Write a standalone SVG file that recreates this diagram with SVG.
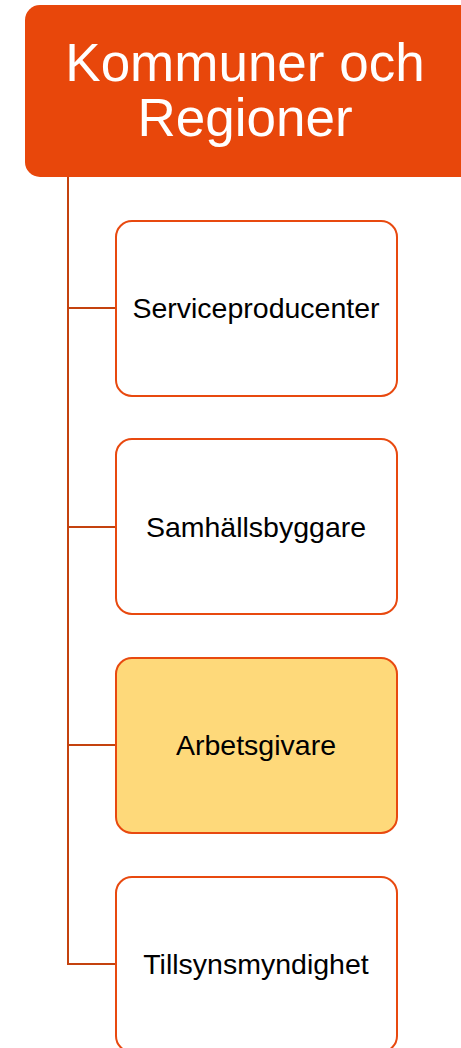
<svg xmlns="http://www.w3.org/2000/svg" width="461" height="1048" viewBox="0 0 461 1048">
<style>
.conn{fill:none;stroke:#C4420E;stroke-width:2}
.box{fill:#FFFFFF;stroke:#E8490F;stroke-width:2}
.hl{fill:#FED97A}
.lbl{font-family:"Liberation Sans",Arial,sans-serif;font-size:28.5px;fill:#000;text-anchor:middle}
.top{font-family:"Liberation Sans",Arial,sans-serif;font-size:53px;fill:#FFFFFF;text-anchor:middle}
</style>
<rect width="461" height="1048" fill="#FFFFFF"/>
<g id="connectors">
<path class="conn" d="M68,177 V964 H116"/>
<path class="conn" d="M68,308 H116"/>
<path class="conn" d="M68,527 H116"/>
<path class="conn" d="M68,745 H116"/>
</g>
<g id="root">
<rect x="25" y="5" width="450" height="172" rx="15" fill="#E8470B"/>
<text class="top" x="245" y="81">Kommuner och</text>
<text class="top" x="245" y="136">Regioner</text>
</g>
<g id="n1">
<rect class="box" x="116" y="221" width="281" height="175" rx="16"/>
<text class="lbl" x="256" y="318">Serviceproducenter</text>
</g>
<g id="n2">
<rect class="box" x="116" y="439" width="281" height="175" rx="16"/>
<text class="lbl" x="256" y="537">Samhällsbyggare</text>
</g>
<g id="n3">
<rect class="box hl" x="116" y="658" width="281" height="175" rx="16"/>
<text class="lbl" x="256" y="755">Arbetsgivare</text>
</g>
<g id="n4">
<rect class="box" x="116" y="877" width="281" height="175" rx="16"/>
<text class="lbl" x="256" y="974">Tillsynsmyndighet</text>
</g>
</svg>
